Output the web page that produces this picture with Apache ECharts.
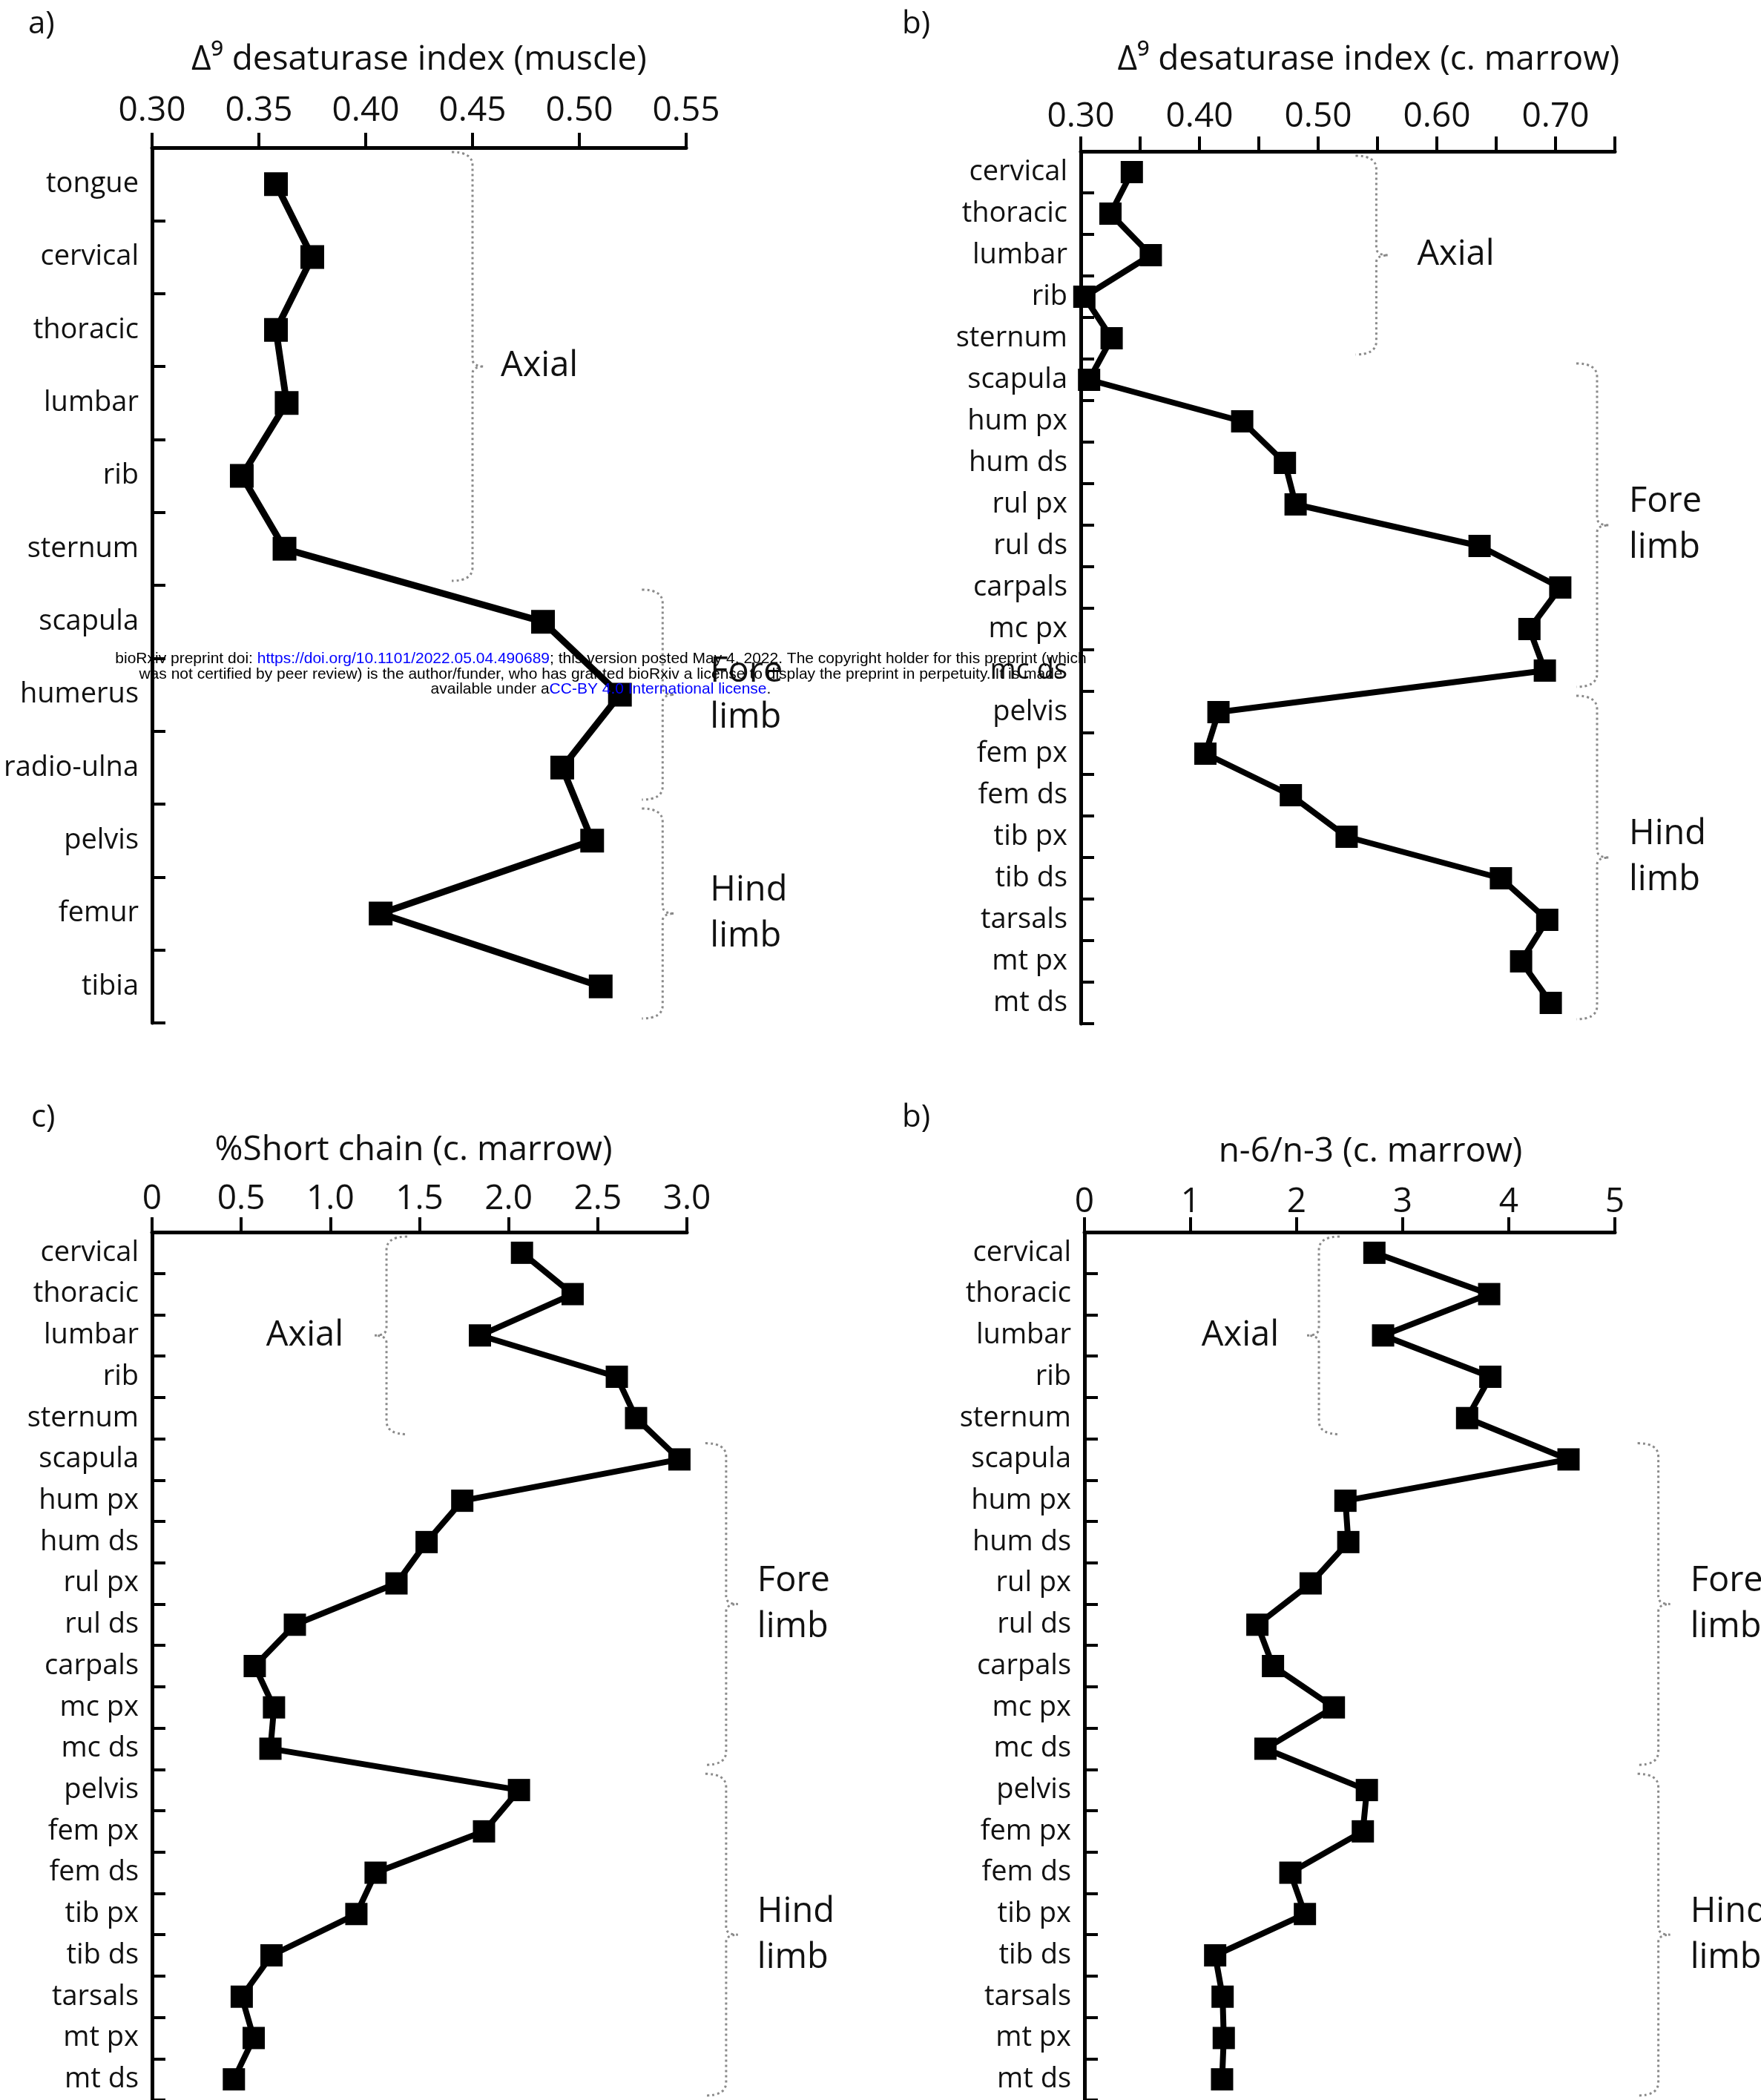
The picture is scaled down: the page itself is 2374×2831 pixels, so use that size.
<!DOCTYPE html>
<html><head><meta charset="utf-8">
<script src="https://cdn.jsdelivr.net/npm/echarts@6/dist/echarts.min.js"></script>
<style>html,body{margin:0;padding:0;background:#fff}#c{width:2374px;height:2831px}</style>
</head><body><div id="c"></div>
<script>
// ---------------- data ----------------
const catsA = ['tongue','cervical','thoracic','lumbar','rib','sternum','scapula','humerus','radio-ulna','pelvis','femur','tibia'];
const valsA = [0.358,0.375,0.358,0.363,0.342,0.362,0.483,0.519,0.492,0.506,0.407,0.510];
const catsB = ['cervical','thoracic','lumbar','rib','sternum','scapula','hum px','hum ds','rul px','rul ds','carpals','mc px','mc ds','pelvis','fem px','fem ds','tib px','tib ds','tarsals','mt px','mt ds'];
const valsB = [0.343,0.325,0.359,0.303,0.326,0.307,0.436,0.472,0.481,0.636,0.704,0.678,0.691,0.416,0.405,0.477,0.524,0.654,0.693,0.671,0.696];
const valsC = [2.075,2.359,1.839,2.607,2.715,2.958,1.740,1.540,1.371,0.801,0.576,0.684,0.664,2.058,1.862,1.254,1.146,0.670,0.503,0.570,0.459];
const valsD = [2.733,3.815,2.815,3.826,3.607,4.563,2.460,2.487,2.132,1.630,1.777,2.351,1.706,2.662,2.624,1.941,2.078,1.232,1.302,1.313,1.297];
const ticksA = ['0.30','0.35','0.40','0.45','0.50','0.55'];
const ticksB = ['0.30','0.40','0.50','0.60','0.70'];
const ticksC = ['0','0.5','1.0','1.5','2.0','2.5','3.0'];
const ticksD = ['0','1','2','3','4','5'];
const groupsA = [['Axial',0,5],['Fore\nlimb',6,8],['Hind\nlimb',9,11]];
const groupsB = [['Axial',0,4],['Fore\nlimb',5,12],['Hind\nlimb',13,20]];
const titles = ['Δ⁹ desaturase index (muscle)','Δ⁹ desaturase index (c. marrow)','%Short chain (c. marrow)','n-6/n-3 (c. marrow)'];
const letters = ['a)','b)','c)','b)'];

// ---------------- layout / style ----------------
const FONT = '"Open Sans", "Noto Sans", "DejaVu Sans", sans-serif';
const panels = [
  {cats:catsA, vals:valsA, ticks:ticksA, groups:groupsA, grid:{left:205,top:199,width:720,height:1180},
   min:0.30, max:0.55, interval:0.05, margin:26, nameGap:95, namePad:0, sym:32, lw:9,
   br:[{x:0.45,d:1,off:38},{x:0.539,d:1,off:64},{x:0.539,d:1,off:64}], letter:[38,33]},
  {cats:catsB, vals:valsB, ticks:ticksB, groups:groupsB, grid:{left:1457,top:204,width:720,height:1176},
   min:0.30, max:0.75, interval:0.05, margin:23, nameGap:100, namePad:56, sym:30, lw:8,
   br:[{x:0.549,d:1,off:55},{x:0.735,d:1,off:43},{x:0.735,d:1,off:43}], letter:[1216,33]},
  {cats:catsB, vals:valsC, ticks:ticksC, groups:groupsB, grid:{left:205,top:1661,width:721,height:1176},
   min:0, max:3, interval:0.5, margin:21, nameGap:87, namePad:-16, sym:30, lw:8,
   br:[{x:1.315,d:-1,off:-58},{x:3.22,d:1,off:42},{x:3.22,d:1,off:42}], letter:[42,1507]},
  {cats:catsB, vals:valsD, ticks:ticksD, groups:groupsB, grid:{left:1462,top:1661,width:715,height:1176},
   min:0, max:5, interval:1, margin:17, nameGap:85, namePad:56, sym:30, lw:8,
   br:[{x:2.21,d:-1,off:-54},{x:5.41,d:1,off:43},{x:5.41,d:1,off:43}], letter:[1216,1507]}
];

const grids=[], xAxes=[], yAxes=[], series=[], graphics=[];
panels.forEach((P, gi) => {
  grids.push(Object.assign({containLabel:false}, P.grid));
  xAxes.push({
    gridIndex:gi, type:'value', position:'top', min:P.min, max:P.max, interval:P.interval,
    axisLine:{show:true, onZero:false, lineStyle:{color:'#000', width:5}},
    axisTick:{show:true, inside:false, length:20, lineStyle:{color:'#000', width:4}},
    axisLabel:{show:true, fontSize:46, fontFamily:FONT, color:'#111', margin:P.margin,
      showMinLabel:true, showMaxLabel:true, hideOverlap:false,
      formatter:(v)=>{ for (const t of P.ticks) { if (Math.abs(parseFloat(t)-v) < 1e-9) return t; } return ''; }},
    splitLine:{show:false},
    name:titles[gi], nameLocation:'middle', nameGap:P.nameGap,
    nameTextStyle:{fontSize:46, fontFamily:FONT, color:'#111', padding:[0,0,0,P.namePad]}
  });
  yAxes.push({
    gridIndex:gi, type:'category', data:P.cats, inverse:true, boundaryGap:true,
    axisLine:{show:true, onZero:false, lineStyle:{color:'#000', width:5}},
    axisTick:{show:true, inside:true, length:18, alignWithLabel:false, interval:0, lineStyle:{color:'#000', width:4}},
    axisLabel:{show:true, interval:0, fontSize:38, fontFamily:FONT, color:'#111', margin:18},
    splitLine:{show:false}
  });
  series.push({
    type:'line', xAxisIndex:gi, yAxisIndex:gi, data:P.vals.map((v,i)=>[v, P.cats[i]]),
    symbol:'rect', symbolSize:P.sym, showSymbol:true, clip:false,
    lineStyle:{color:'#000', width:P.lw}, itemStyle:{color:'#000'}, z:3, animation:false
  });
  series.push({
    type:'custom', xAxisIndex:gi, yAxisIndex:gi, clip:false, silent:true, z:2, animation:false,
    encode:{x:0, y:1},
    data:P.groups.map((g,i)=>[P.br[i].x, g[1]]),
    renderItem:(params, api) => {
      const g = P.groups[params.dataIndex], b = P.br[params.dataIndex];
      const p0 = api.coord([b.x, g[1]]), p1 = api.coord([b.x, g[2]]);
      const band = api.size([0, 1])[1];
      const X = p0[0], T = p0[1] - band/2 + 6, B = p1[1] + band/2 - 6, M = (T + B)/2;
      const d = b.d, w = 28, h = 18, h2 = 10, n = 16;
      const path = `M${X-d*w},${T} Q${X},${T} ${X},${T+h} L${X},${M-h2} Q${X},${M} ${X+d*n},${M} Q${X},${M} ${X},${M+h2} L${X},${B-h} Q${X},${B} ${X-d*w},${B}`;
      return {type:'group', children:[
        {type:'path', shape:{pathData:path}, style:{fill:null, stroke:'#8a8a8a', lineWidth:3, lineDash:[3,4]}},
        {type:'text', x:X + b.off, y:M, style:{text:g[0], fontSize:47, fontFamily:FONT, fill:'#111',
          align:d>0?'left':'right', verticalAlign:'middle', lineHeight:62}}
      ]};
    }
  });
  graphics.push({type:'text', x:P.letter[0], y:P.letter[1], style:{text:letters[gi], fontSize:42, fontFamily:FONT, fill:'#111', align:'left', verticalAlign:'middle'}});
});

const WM = {fontSize:21, fontFamily:'"Liberation Sans", Arial, sans-serif'};
const wmLines = [
  '{k|bioRxiv preprint doi: }{u|https://doi.org/10.1101/2022.05.04.490689}{k|; this version posted May 4, 2022. The copyright holder for this preprint (which}',
  '{k|was not certified by peer review) is the author/funder, who has granted bioRxiv a license to display the preprint in perpetuity. It is made}',
  '{k|available under a}{u|CC-BY 4.0 International license}{k|.}'
];
[888, 909, 929].forEach((y, i) => {
  graphics.push({type:'text', x:810, y:y, z:100, style:{text:wmLines[i], align:'center', verticalAlign:'middle',
    rich:{k:Object.assign({fill:'#000'}, WM), u:Object.assign({fill:'#0000ff'}, WM)}}});
});

const chart = echarts.init(document.getElementById('c'), null, {renderer:'canvas', width:2374, height:2831});
chart.setOption({
  animation:false, backgroundColor:'#fff',
  grid:grids, xAxis:xAxes, yAxis:yAxes, series:series, graphic:graphics
});
</script></body></html>
